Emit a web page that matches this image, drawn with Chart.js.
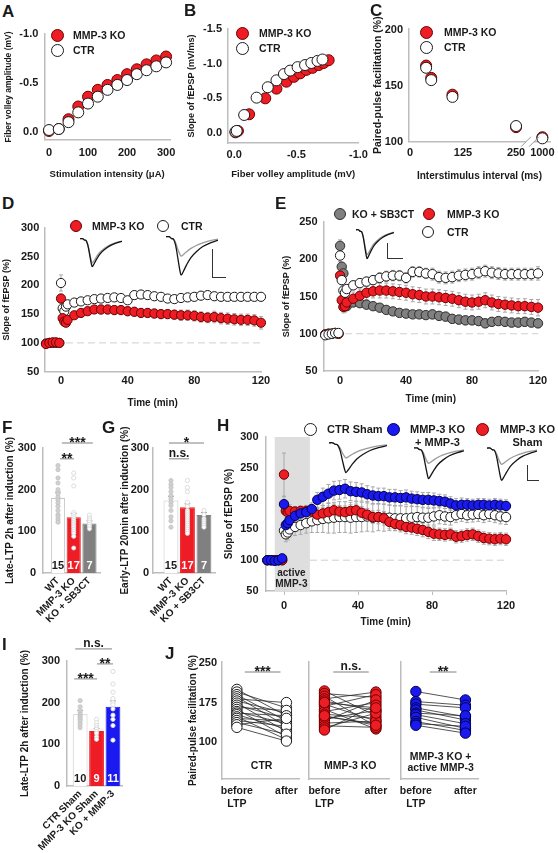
<!DOCTYPE html>
<html>
<head>
<meta charset="utf-8">
<script src="https://cdn.jsdelivr.net/npm/chart.js@4.4.0/dist/chart.umd.min.js"></script>
<style>
  body { margin: 0; background: #fff; }
  #fig { position: relative; width: 558px; height: 853px; overflow: hidden; background: #fff;
         font-family: "Liberation Sans", Arial, Helvetica, sans-serif; color: #1a1a1a; }
  #fig canvas { position: absolute; }
  .lbl { position: absolute; font-weight: bold; font-size: 17px; line-height: 1; }
  .leg { position: absolute; font-weight: bold; font-size: 10.5px; line-height: 13px; white-space: nowrap; }
  .dot { position: absolute; border-radius: 50%; box-sizing: border-box; }
  .sb { position: absolute; border-left: 1.3px solid #333; border-bottom: 1.3px solid #333; }
</style>
</head>
<body>
<div id="fig"></div>
<script>
// ---- data ----
// A: fiber volley vs stimulation
const aStim = [0, 25, 50, 75, 100, 125, 150, 175, 200, 225, 250, 275, 300];
const aKO  = [-0.01, -0.03, -0.13, -0.26, -0.36, -0.43, -0.48, -0.53, -0.59, -0.64, -0.69, -0.73, -0.77];
const aCTR = [-0.02, -0.03, -0.10, -0.20, -0.29, -0.36, -0.43, -0.48, -0.53, -0.59, -0.63, -0.67, -0.71];
const aTicksX = [0, 100, 200, 300];
const aTicksY = [-1.0, -0.5, 0.0];

// B: fEPSP slope vs fiber volley
const bKOfv   = [-0.01, -0.03, -0.12, -0.25, -0.34, -0.42, -0.48, -0.53, -0.58, -0.63, -0.68, -0.72, -0.76];
const bKOsl   = [-0.01, -0.03, -0.27, -0.50, -0.64, -0.74, -0.81, -0.86, -0.91, -0.94, -0.98, -1.01, -1.05];
const bCTRfv  = [-0.01, -0.02, -0.08, -0.18, -0.27, -0.34, -0.40, -0.45, -0.51, -0.57, -0.62, -0.67, -0.71];
const bCTRsl  = [-0.02, -0.03, -0.26, -0.51, -0.66, -0.76, -0.85, -0.90, -0.95, -0.98, -1.01, -1.04, -1.06];
const bTicksX = [0.0, -0.5, -1.0];
const bTicksY = [-1.5, -1.0, -0.5, 0.0];

// C: paired-pulse facilitation (broken axis: 1000 ms drawn at 312)
const cPos = [38, 50, 100, 250, 312];
const cKO  = [168, 157, 142, 113, 104];
const cCTR = [166, 155, 140, 114, 103];
const cTickPos = [0, 125, 250, 312];
const cTickLbl = ['0', '125', '250', '1000'];
const cTicksY = [100, 150, 200];

// D and E: LTP time courses
const timeDE = [-9, -7, -5, -3, -1, 0, 1, 2, 3, 4, 8, 12, 16, 20, 24, 28, 32, 36, 40, 44, 48, 52, 56, 60,
                64, 68, 72, 76, 80, 84, 88, 92, 96, 100, 104, 108, 112, 116, 120];
const dKO  = [98, 100, 101, 101, 100, 177, 143, 137, 135, 140, 148, 152, 155, 158, 158, 158, 157, 157, 155, 154,
              152, 152, 151, 150, 150, 149, 148, 148, 147, 145, 144, 145, 143, 142, 141, 140, 140, 139, 135];
const dCTR = [99, 100, 100, 100, 100, 204, 160, 155, 163, 167, 170, 172, 174, 176, 177, 178, 179, 178, 174, 183,
              184, 183, 181, 180, 177, 176, 178, 179, 180, 182, 183, 181, 180, 180, 180, 180, 180, 180, 180];
const dKOerr  = [2, 2, 2, 2, 2, 8, 6, 6, 6, 5, 6, 7, 7, 7, 8, 8, 8, 8, 8, 8, 8, 8, 8, 8, 8, 8, 9, 9, 9, 9, 9,
                 10, 10, 10, 10, 10, 10, 10, 11];
const dCTRerr = [2, 2, 2, 2, 2, 14, 6, 6, 6, 5, 6, 6, 6, 6, 6, 6, 6, 6, 6, 7, 7, 7, 7, 7, 7, 7, 7, 7, 7, 7, 7,
                 7, 7, 7, 7, 7, 7, 7, 7];
const eSB  = [99, 100, 100, 101, 100, 218, 190, 181, 140, 137, 142, 141, 139, 137, 135, 132, 130, 128, 127, 126,
              126, 125, 126, 124, 123, 120, 119, 118, 118, 117, 114, 116, 117, 116, 115, 115, 116, 115, 114];
const eKO  = [99, 100, 100, 101, 100, 178, 145, 136, 137, 142, 147, 151, 155, 157, 158, 158, 157, 156, 155, 153,
              152, 150, 150, 149, 148, 147, 145, 143, 142, 143, 145, 142, 140, 139, 138, 137, 137, 136, 135];
const eCTR = [98, 99, 100, 101, 101, 205, 172, 158, 155, 160, 165, 168, 170, 172, 175, 177, 178, 178, 175, 183,
              183, 181, 180, 176, 175, 176, 178, 179, 180, 182, 184, 182, 181, 180, 180, 180, 180, 180, 181];
const eSBerr  = [2, 2, 2, 2, 2, 8, 6, 5, 5, 5, 5, 5, 5, 5, 5, 5, 5, 5, 5, 5, 5, 5, 6, 6, 6, 6, 6, 6, 6, 6, 6,
                 6, 6, 6, 6, 6, 6, 6, 6];
const eKOerr  = [2, 2, 2, 2, 2, 10, 8, 8, 8, 8, 9, 9, 9, 9, 10, 10, 10, 10, 10, 10, 10, 10, 10, 10, 10, 10, 10,
                 10, 10, 10, 10, 10, 10, 10, 10, 10, 10, 10, 11];
const eCTRerr = [2, 2, 2, 2, 2, 8, 6, 6, 6, 6, 6, 6, 6, 6, 7, 7, 7, 7, 7, 7, 7, 7, 8, 8, 8, 8, 8, 8, 8, 8, 8,
                 8, 8, 8, 8, 8, 8, 8, 9];
const timeTicks = [0, 40, 80, 120];

// H: active MMP-3 rescue
const timeH = [-9, -7, -5, -3, -1, 0, 1, 2, 3, 6, 9, 12, 15, 18, 21, 24, 27, 30, 33, 36, 39, 42, 45, 48, 51,
               54, 57, 60, 63, 66, 69, 72, 75, 78, 81, 84, 87, 90, 93, 96, 99, 102, 105, 108, 111, 114, 117, 120];
const hBlue = [100, 100, 99, 100, 103, 191, 157, 160, 165, 172, 176, 178, 183, 198, 203, 208, 213, 214, 216, 212,
               211, 210, 207, 205, 204, 204, 202, 202, 201, 202, 200, 199, 198, 198, 197, 196, 195, 192, 189, 190,
               190, 189, 190, 190, 189, 190, 189, 188];
const hRed  = [100, 100, 100, 100, 100, 239, 180, 178, 180, 179, 180, 180, 179, 174, 176, 178, 181, 179, 178, 180,
               181, 177, 174, 170, 170, 168, 162, 159, 157, 154, 153, 151, 149, 146, 143, 142, 141, 142, 138, 139,
               141, 142, 139, 136, 135, 134, 135, 134];
const hCTR  = [100, 100, 100, 100, 100, 148, 142, 145, 150, 154, 157, 160, 163, 165, 167, 168, 169, 170, 170, 169,
               170, 170, 171, 169, 170, 169, 169, 168, 168, 168, 169, 170, 169, 169, 171, 173, 171, 170, 173, 175,
               173, 174, 175, 173, 175, 173, 171, 170];
const hBlueErr = [2, 2, 2, 2, 2, 12, 8, 8, 8, 9, 10, 10, 10, 12, 14, 15, 15, 15, 15, 15, 15, 14, 14, 14, 13, 13,
                  13, 13, 12, 12, 12, 12, 12, 12, 12, 11, 11, 11, 11, 11, 10, 10, 10, 10, 10, 10, 10, 10];
const hRedErr  = [2, 2, 2, 2, 2, 35, 10, 10, 10, 8, 8, 9, 9, 10, 10, 10, 10, 10, 10, 10, 10, 10, 10, 10, 11, 11,
                  11, 11, 11, 11, 11, 11, 11, 11, 11, 10, 10, 10, 10, 10, 10, 10, 10, 10, 10, 10, 10, 10];
const hCTRerr  = [2, 2, 2, 2, 2, 10, 12, 12, 12, 14, 15, 16, 18, 20, 22, 24, 25, 25, 25, 25, 25, 24, 24, 23, 22,
                  22, 21, 20, 20, 19, 18, 17, 16, 15, 14, 14, 13, 13, 12, 12, 12, 12, 12, 12, 12, 12, 12, 12];

// F, G, I: bar summaries
const barPos = [1, 2, 3];
const fgLabels = ['WT', 'MMP-3 KO', 'KO + SB3CT'];
const fMean = [180, 134, 119];
const fSem = [14, 9, 6];
const fN = ['15', '17', '7'];
const fDotsWT = [258, 248, 228, 216, 200, 190, 182, 175, 168, 160, 150, 140, 135, 128, 122];
const fDotsKO = [240, 228, 209, 145, 140, 135, 130, 126, 122, 118, 114, 110, 105, 100, 95, 88, 60];
const fDotsSB = [139, 132, 127, 122, 117, 112, 106];
const gMean = [174, 158, 139];
const gSem = [10, 8, 6];
const gN = ['15', '17', '7'];
const gDotsWT = [222, 213, 205, 195, 185, 178, 170, 162, 150, 135, 125, 110];
const gDotsKO = [222, 205, 195, 170, 160, 150, 145, 140, 135, 130, 125, 120, 115, 110, 105, 100, 95];
const gDotsSB = [150, 140, 130, 125, 120, 115, 110];
const iLabels = ['CTR Sham', 'MMP-3 KO Sham', 'KO + MMP-3'];
const iMean = [172, 132, 190];
const iSem = [10, 6, 14];
const iN = ['10', '9', '11'];
const iDotsCTR = [205, 190, 178, 172, 168, 164, 160, 155, 148, 140];
const iDotsKO = [160, 152, 145, 140, 136, 131, 126, 118, 112];
const iDotsMMP = [275, 245, 225, 210, 200, 195, 185, 170, 160, 145, 110];
const barTicksY = [0, 100, 200, 300];

// J: paired-pulse before / after LTP
const jCtrBefore = [200, 195, 190, 186, 182, 178, 174, 170, 166, 162, 158, 155, 152, 148, 145, 141, 137, 133, 128];
const jCtrAfter  = [150, 165, 140, 130, 175, 155, 120, 145, 160, 110, 135, 150, 125, 105, 140, 130, 115, 145, 102];
const jKoBefore  = [197, 192, 187, 182, 178, 172, 168, 162, 158, 153, 148, 144, 140, 136, 131, 127, 123, 175, 150];
const jKoAfter   = [150, 185, 130, 195, 160, 140, 190, 125, 175, 145, 135, 160, 180, 140, 128, 155, 170, 165, 132];
const jMmpBefore = [196, 177, 172, 165, 161, 155, 152, 147, 139, 135, 132];
const jMmpAfter  = [180, 170, 165, 148, 142, 150, 135, 126, 122, 130, 117];
const jTicksY = [100, 175, 250];

// example fEPSP traces for the insets
const traceT     = [0, 3, 5, 7, 9, 11, 13, 14, 16, 19, 23, 28, 34, 41, 48];
const traceLTP   = [0.05, 0.05, 0, -0.02, -0.2, -0.55, -0.9, -1.0, -0.9, -0.72, -0.52, -0.36, -0.22, -0.12, -0.05];
const traceBaseA = [0.05, 0.05, 0, -0.02, -0.18, -0.48, -0.78, -0.86, -0.78, -0.62, -0.45, -0.31, -0.19, -0.1, -0.04];
const traceBaseB = [0.05, 0.05, 0, -0.02, -0.12, -0.3, -0.44, -0.48, -0.44, -0.36, -0.27, -0.19, -0.12, -0.06, -0.02];

// ---- styling ----
const FAM = '"Liberation Sans", Arial, Helvetica, sans-serif';
const AXIS = '#bdbdbd';
const RED = '#ee1c24', RED_E = '#6e0000';
const WHITE = '#ffffff', WHITE_E = '#1a1a1a';
const GRAY = '#808080', GRAY_E = '#2e2e2e';
const BLUE = '#1a1af0', BLUE_E = '#00004d';

Chart.defaults.font.family = FAM;
Chart.defaults.font.weight = 'bold';
Chart.defaults.font.size = 11;
Chart.defaults.color = '#1a1a1a';
Chart.defaults.animation = false;
Chart.defaults.events = [];
Chart.defaults.plugins.legend.display = false;
Chart.defaults.plugins.tooltip.enabled = false;

const fig = document.getElementById('fig');

// canvas placed so that the chart area lands on the given plot box
function canvasFor(b) {
  const lh = 12;
  const L = Math.floor(b.tx - lh / 2);
  const T = Math.floor(b.y0 - (b.pt ?? 12));
  const R = Math.ceil(b.x1 + (b.pr ?? 14));
  const B = Math.ceil(b.ty + lh / 2);
  const c = document.createElement('canvas');
  c.width = R - L; c.height = B - T;
  c.style.left = L + 'px'; c.style.top = T + 'px';
  c.style.width = (R - L) + 'px'; c.style.height = (B - T) + 'px';
  fig.appendChild(c);
  return { c, yw: b.x0 - L, xh: B - b.y1, pad: { top: b.y0 - T, right: R - b.x1, left: 0, bottom: 0 } };
}

function lin(o, size) {
  return {
    type: 'linear', min: o.min, max: o.max, reverse: !!o.reverse, offset: false,
    border: { display: o.border !== false, color: AXIS, width: 1.5 },
    grid: { display: !!o.tickMarks, drawOnChartArea: false, drawTicks: !!o.tickMarks, tickLength: 4, color: AXIS, offset: false },
    ticks: { display: o.ticks !== false, padding: o.pad ?? 5, autoSkip: false,
             maxRotation: o.rot ?? 0, minRotation: o.rot ?? 0,
             callback: o.fmt || (v => String(v)), font: { size: o.tickSize ?? 11, weight: 'bold' } },
    title: { display: !!o.title, text: o.title, padding: 0, font: { size: o.titleSize ?? 10, weight: 'bold', lineHeight: 1.2 } },
    afterBuildTicks: s => { s.ticks = (o.vals || []).map(v => ({ value: v })); },
    afterFit: s => {
      if (s.isHorizontal()) s.height = size; else s.width = size;
      s.paddingLeft = s.paddingRight = s.paddingTop = s.paddingBottom = 0;
    }
  };
}

function pts(xs, ys, fill, edge, r, errs) {
  return { data: xs.map((x, i) => ({ x, y: ys[i] })), showLine: false, clip: false,
           pointRadius: r, pointBackgroundColor: fill, pointBorderColor: edge, pointBorderWidth: 1,
           errors: errs };
}

// error bars, shading, baselines, brackets, counts
const deco = {
  id: 'deco',
  beforeDatasetsDraw(chart, args, o) {
    const { ctx } = chart, x = chart.scales.x, y = chart.scales.y;
    ctx.save();
    if (o.shade) {
      const s = o.shade;
      const l = x.getPixelForValue(s.x1), r = x.getPixelForValue(s.x2);
      const t = y.getPixelForValue(s.y2), b = y.getPixelForValue(s.y1);
      ctx.fillStyle = '#dedede';
      ctx.fillRect(l, t, r - l, b - t);
      ctx.fillStyle = '#222'; ctx.font = 'bold 10px ' + FAM;
      ctx.textAlign = 'center'; ctx.textBaseline = 'middle';
      s.text.forEach((tx, k) => ctx.fillText(tx, x.getPixelForValue(s.tx), y.getPixelForValue(s.ty[k])));
    }
    if (o.baseline) {
      const bl = o.baseline;
      ctx.strokeStyle = '#cfcfcf'; ctx.lineWidth = 1; ctx.setLineDash([7, 4]);
      ctx.beginPath();
      ctx.moveTo(x.getPixelForValue(bl.x1), y.getPixelForValue(bl.y));
      ctx.lineTo(x.getPixelForValue(bl.x2), y.getPixelForValue(bl.y));
      ctx.stroke(); ctx.setLineDash([]);
    }
    chart.data.datasets.forEach((ds, i) => {
      if (!ds.errors) return;
      const meta = chart.getDatasetMeta(i);
      ctx.strokeStyle = ds.errColor || '#a8a8a8'; ctx.lineWidth = 1;
      meta.data.forEach((el, j) => {
        const d = ds.data[j], v = typeof d === 'object' ? d.y : d, e = ds.errors[j];
        if (v == null || !e) return;
        const top = y.getPixelForValue(v + e);
        const bot = ds.errUp ? y.getPixelForValue(v) : y.getPixelForValue(v - e);
        const w = ds.errCap ?? 2;
        ctx.beginPath();
        ctx.moveTo(el.x, top); ctx.lineTo(el.x, bot);
        ctx.moveTo(el.x - w, top); ctx.lineTo(el.x + w, top);
        if (!ds.errUp) { ctx.moveTo(el.x - w, bot); ctx.lineTo(el.x + w, bot); }
        ctx.stroke();
      });
    });
    ctx.restore();
  },
  afterDatasetsDraw(chart, args, o) {
    const { ctx } = chart, x = chart.scales.x, y = chart.scales.y;
    ctx.save();
    if (o.counts) {
      const meta = chart.getDatasetMeta(o.counts.ds);
      ctx.font = 'bold 11px ' + FAM; ctx.textAlign = 'center'; ctx.textBaseline = 'middle';
      meta.data.forEach((el, j) => {
        ctx.fillStyle = o.counts.color[j];
        ctx.fillText(o.counts.text[j], el.x, y.getPixelForValue(0) - 7);
      });
    }
    (o.sig || []).forEach(s => {
      const py = y.getPixelForValue(s.y);
      const l = x.getPixelForValue(s.x1), r = x.getPixelForValue(s.x2);
      ctx.strokeStyle = '#808080'; ctx.lineWidth = 1;
      ctx.beginPath(); ctx.moveTo(l, py); ctx.lineTo(r, py); ctx.stroke();
      ctx.fillStyle = '#1a1a1a'; ctx.textAlign = 'center'; ctx.textBaseline = 'alphabetic';
      const star = s.text.includes('*');
      ctx.font = 'bold ' + (star ? 14 : 12) + 'px ' + FAM;
      ctx.fillText(s.text, (l + r) / 2, star ? py + 4 : py - 2);
    });
    if (o.caption) {
      ctx.fillStyle = '#1a1a1a'; ctx.font = 'bold 10.5px ' + FAM;
      ctx.textAlign = 'center'; ctx.textBaseline = 'middle';
      o.caption.text.forEach((t, k) => ctx.fillText(t, x.getPixelForValue(o.caption.x), y.getPixelForValue(o.caption.y[k])));
    }
    if (o.breakAt != null) {
      const px = x.getPixelForValue(o.breakAt), py = chart.chartArea.bottom;
      ctx.fillStyle = '#fff'; ctx.fillRect(px - 4, py - 3, 8, 6);
      ctx.strokeStyle = '#9a9a9a'; ctx.lineWidth = 1;
      [-4, 4].forEach(dx => {
        ctx.beginPath(); ctx.moveTo(px + dx - 5, py + 5); ctx.lineTo(px + dx + 5, py - 5); ctx.stroke();
      });
    }
    ctx.restore();
  }
};

function base(k, scales, decoOpts) {
  return { responsive: false, layout: { padding: k.pad }, scales, plugins: { deco: decoOpts || {} } };
}

// ---------- A ----------
{
  const k = canvasFor({ x0: 44.3, x1: 170, y0: 34, y1: 139.8, tx: 10, ty: 174 });
  new Chart(k.c, {
    type: 'scatter',
    data: { datasets: [pts(aStim, aCTR, WHITE, WHITE_E, 5.5), pts(aStim, aKO, RED, RED_E, 5.5)] },
    options: base(k, {
      x: lin({ min: -12, max: 310, vals: aTicksX, pad: 7, title: 'Stimulation intensity (\u03bcA)', titleSize: 9.5 }, k.xh),
      y: lin({ min: -1, max: 0.08, reverse: true, vals: aTicksY, fmt: v => v.toFixed(1), pad: 6,
               title: 'Fiber volley amplitude (mV)', titleSize: 8.5 }, k.yw)
    }),
    plugins: [deco]
  });
}

// ---------- B ----------
{
  const k = canvasFor({ x0: 228, x1: 358.5, y0: 29, y1: 143, tx: 192, ty: 174 });
  new Chart(k.c, {
    type: 'scatter',
    data: { datasets: [pts(bCTRfv, bCTRsl, WHITE, WHITE_E, 5.5), pts(bKOfv, bKOsl, RED, RED_E, 5.5)] },
    options: base(k, {
      x: lin({ min: -1, max: 0.05, reverse: true, vals: bTicksX, fmt: v => v.toFixed(1), pad: 5,
               title: 'Fiber volley amplitude (mV)', titleSize: 9.5 }, k.xh),
      y: lin({ min: -1.5, max: 0.144, reverse: true, vals: bTicksY, fmt: v => v.toFixed(1), pad: 6,
               title: 'Slope of fEPSP (mV/ms)', titleSize: 9 }, k.yw)
    }),
    plugins: [deco]
  });
}

// ---------- C ----------
{
  const k = canvasFor({ x0: 409, x1: 550, y0: 28.6, y1: 141.7, tx: 378, ty: 176, pr: 8 });
  new Chart(k.c, {
    type: 'scatter',
    data: { datasets: [pts(cPos, cCTR, WHITE, WHITE_E, 5.5), pts(cPos, cKO, RED, RED_E, 5.5)] },
    options: base(k, {
      x: lin({ min: -2.4, max: 330, vals: cTickPos, fmt: v => cTickLbl[cTickPos.indexOf(v)], pad: 5,
               title: 'Interstimulus interval (ms)' }, k.xh),
      y: lin({ min: 100, max: 201, vals: cTicksY, pad: 6, title: 'Paired-pulse facilitation (%)', titleSize: 10.5 }, k.yw)
    }, { breakAt: 283 }),
    plugins: [deco]
  });
}

// ---------- D ----------
{
  const k = canvasFor({ x0: 44.3, x1: 261, y0: 227.7, y1: 371.7, tx: 7, ty: 403 });
  new Chart(k.c, {
    type: 'scatter',
    data: { datasets: [pts(timeDE, dKO, RED, RED_E, 4.6, dKOerr), pts(timeDE, dCTR, WHITE, WHITE_E, 4.6, dCTRerr)] },
    options: base(k, {
      x: lin({ min: -10, max: 120, vals: timeTicks, pad: 3, title: 'Time (min)' }, k.xh),
      y: lin({ min: 50, max: 300, vals: [50, 100, 150, 200, 250, 300], pad: 5, title: 'Slope of fEPSP (%)', titleSize: 9 }, k.yw)
    }, { baseline: { y: 100, x1: 3, x2: 120 } }),
    plugins: [deco]
  });
}

// ---------- E ----------
{
  const k = canvasFor({ x0: 323.6, x1: 538, y0: 222, y1: 371, tx: 287, ty: 399 });
  new Chart(k.c, {
    type: 'scatter',
    data: { datasets: [
      pts(timeDE, eCTR, WHITE, WHITE_E, 4.7, eCTRerr),
      pts(timeDE, eKO, RED, RED_E, 4.7, eKOerr),
      pts(timeDE, eSB, GRAY, GRAY_E, 4.7, eSBerr)
    ] },
    options: base(k, {
      x: lin({ min: -10, max: 120, vals: timeTicks, pad: 3, title: 'Time (min)' }, k.xh),
      y: lin({ min: 50, max: 250, vals: [50, 100, 150, 200, 250], pad: 6, title: 'Slope of fEPSP (%)', titleSize: 9 }, k.yw)
    }, { baseline: { y: 100, x1: 3, x2: 120 } }),
    plugins: [deco]
  });
}

// ---------- H ----------
{
  const k = canvasFor({ x0: 265.5, x1: 506, y0: 437, y1: 591, tx: 229, ty: 622 });
  new Chart(k.c, {
    type: 'scatter',
    data: { datasets: [
      pts(timeH, hBlue, BLUE, BLUE_E, 4.7, hBlueErr),
      pts(timeH, hRed, RED, RED_E, 4.7, hRedErr),
      pts(timeH, hCTR, WHITE, WHITE_E, 4.7, hCTRerr)
    ] },
    options: base(k, {
      x: lin({ min: -10, max: 120, vals: timeTicks, pad: 4, tickMarks: true, title: 'Time (min)' }, k.xh),
      y: lin({ min: 50, max: 300, vals: [50, 100, 150, 200, 250, 300], pad: 7, title: 'Slope of fEPSP (%)' }, k.yw)
    }, {
      shade: { x1: -5, x2: 14, y1: 50, y2: 300, text: ['active', 'MMP-3'], tx: 4, ty: [79, 61] },
      baseline: { y: 100, x1: 14, x2: 120 }
    }),
    plugins: [deco]
  });
}

// ---------- bar panels F, G, I ----------
function barPanel(box, o) {
  const k = canvasFor(box);
  const dotSet = (vals, p, fill, edge) => ({
    type: 'scatter', data: vals.map(v => ({ x: p, y: v })), clip: false,
    pointRadius: 2.1, pointBackgroundColor: fill, pointBorderColor: edge, pointBorderWidth: 0.8
  });
  new Chart(k.c, {
    type: 'bar',
    data: { datasets: [
      dotSet(o.dots[0], barPos[0], '#d0d0d0', '#c2c2c2'),
      dotSet(o.dots[1], barPos[1], '#ffffff', '#d4d4d4'),
      dotSet(o.dots[2], barPos[2], '#ffffff', '#d4d4d4'),
      { type: 'bar', data: barPos.map((p, i) => ({ x: p, y: o.mean[i] })),
        backgroundColor: o.colors, borderColor: o.edges, borderWidth: 1,
        barPercentage: 0.9, categoryPercentage: 1, errors: o.sem, errUp: true, errColor: '#9a9a9a', errCap: 3 }
    ] },
    options: base(k, {
      x: lin({ min: o.xmin, max: o.xmax, vals: barPos, rot: 45, pad: 2, tickSize: 10,
               fmt: v => o.labels[barPos.indexOf(v)] }, k.xh),
      y: lin({ min: 0, max: 300, vals: barTicksY, pad: o.ypad ?? 7, title: o.title }, k.yw)
    }, { counts: { ds: 3, text: o.n, color: o.nColor }, sig: o.sig }),
    plugins: [deco]
  });
}

barPanel({ x0: 43, x1: 100, y0: 448, y1: 573, tx: 10, ty: 625, pt: 40, pr: 10 }, {
  xmin: 0.048, xmax: 3.67, labels: fgLabels, mean: fMean, sem: fSem, n: fN,
  dots: [fDotsWT, fDotsKO, fDotsSB],
  colors: [WHITE, RED, GRAY], edges: ['#c8c8c8', RED, GRAY], nColor: ['#1a1a1a', '#fff', '#fff'],
  title: 'Late-LTP 2h after induction (%)',
  sig: [{ x1: 1.25, x2: 3.22, y: 312, text: '***' }, { x1: 1.13, x2: 2.02, y: 274, text: '**' }]
});

barPanel({ x0: 153, x1: 215, y0: 448, y1: 573, tx: 125, ty: 625, pt: 40, pr: 10 }, {
  xmin: -0.09, xmax: 3.67, labels: fgLabels, mean: gMean, sem: gSem, n: gN, ypad: 4,
  dots: [gDotsWT, gDotsKO, gDotsSB],
  colors: [WHITE, RED, GRAY], edges: ['#c8c8c8', RED, GRAY], nColor: ['#1a1a1a', '#fff', '#fff'],
  title: 'Early-LTP 20min after induction (%)',
  sig: [{ x1: 0.88, x2: 3.0, y: 312, text: '*' }, { x1: 0.88, x2: 2.1, y: 274, text: 'n.s.' }]
});

barPanel({ x0: 67, x1: 122, y0: 661, y1: 786, tx: 25, ty: 845, pt: 40, pr: 10 }, {
  xmin: 0.2, xmax: 3.55, labels: iLabels, mean: iMean, sem: iSem, n: iN,
  dots: [iDotsCTR, iDotsKO, iDotsMMP],
  colors: [WHITE, RED, BLUE], edges: ['#c8c8c8', RED, BLUE], nColor: ['#1a1a1a', '#fff', '#fff'],
  title: 'Late-LTP 2h after induction (%)',
  sig: [{ x1: 0.7, x2: 2.94, y: 329, text: 'n.s.' }, { x1: 2.03, x2: 3.0, y: 293, text: '**' },
        { x1: 0.64, x2: 2.03, y: 257, text: '***' }]
});

// ---------- J ----------
function jPanel(box, before, after, fill, edge, first, caption, sig) {
  const k = canvasFor(box);
  const dots = [], segs = [];
  before.forEach((b, i) => {
    dots.push({ x: 0, y: b }, { x: 1, y: after[i] });
    segs.push({ x: 0, y: b }, { x: 1, y: after[i] }, { x: 0.5, y: null });
  });
  new Chart(k.c, {
    type: 'scatter',
    data: { datasets: [
      { data: dots, showLine: false, clip: false, pointRadius: 5.2, pointBackgroundColor: fill,
        pointBorderColor: edge, pointBorderWidth: 1 },
      { data: segs, showLine: true, spanGaps: false, clip: false, borderColor: '#2a2a2a', borderWidth: 0.8, pointRadius: 0 }
    ] },
    options: base(k, {
      x: lin({ min: -0.3, max: 1.27, vals: [0, 1], pad: 6, tickSize: 10.5,
               fmt: v => v === 0 ? ['before', 'LTP'] : 'after' }, k.xh),
      y: lin({ min: 30, max: 252, vals: jTicksY, ticks: first, pad: 5,
               title: first ? 'Paired-pulse facilitation (%)' : '', titleSize: 10 }, k.yw)
    }, { caption, sig: [sig] }),
    plugins: [deco]
  });
}

jPanel({ x0: 222, x1: 300, y0: 662, y1: 779, tx: 193, ty: 815, pt: 20, pr: 6 }, jCtrBefore, jCtrAfter, WHITE, WHITE_E, true,
       { text: ['CTR'], x: 0.5, y: [54] }, { x1: 0.16, x2: 0.88, y: 233, text: '***' });
jPanel({ x0: 309, x1: 390, y0: 662, y1: 779, tx: 300, ty: 815, pt: 20, pr: 6 }, jKoBefore, jKoAfter, RED, RED_E, false,
       { text: ['MMP-3 KO'], x: 0.5, y: [54] }, { x1: 0.17, x2: 0.86, y: 233, text: 'n.s.' });
jPanel({ x0: 401, x1: 479, y0: 662, y1: 779, tx: 392, ty: 815, pt: 20, pr: 6 }, jMmpBefore, jMmpAfter, BLUE, BLUE_E, false,
       { text: ['MMP-3 KO +', 'active MMP-3'], x: 0.5, y: [72, 51] }, { x1: 0.28, x2: 0.82, y: 233, text: '**' });

// ---------- inset traces ----------
function trace(left, top, w, h, gray) {
  const c = document.createElement('canvas');
  c.width = w; c.height = h;
  c.style.left = left + 'px'; c.style.top = top + 'px';
  c.style.width = w + 'px'; c.style.height = h + 'px';
  fig.appendChild(c);
  const line = (ys, col) => ({ data: traceT.map((t, i) => ({ x: t, y: ys[i] })), showLine: true,
                               borderColor: col, borderWidth: 1.3, pointRadius: 0, tension: 0.35, clip: false });
  new Chart(c, {
    type: 'scatter',
    data: { datasets: [line(traceLTP, '#151515'), line(gray, '#9a9a9a')] },
    options: { responsive: false, layout: { padding: 0 },
      scales: { x: { display: false, min: 0, max: 48 }, y: { display: false, min: -1.05, max: 0.15 } } }
  });
}
trace(80, 236, 42, 32, traceBaseA);
trace(166, 233, 52, 44, traceBaseB);
trace(356, 227, 38, 33, traceBaseA);
trace(329, 440, 58, 34, traceBaseB);
trace(414, 445, 50, 35, traceBaseB);
trace(487, 445, 50, 37, traceBaseB);

// scale bars and legends
function el(cls, css, html) {
  const d = document.createElement('div');
  d.className = cls; d.style.cssText = css;
  if (html) d.innerHTML = html;
  fig.appendChild(d);
}
el('sb', 'left:212px;top:249px;width:13px;height:28px');
el('sb', 'left:387px;top:243px;width:15px;height:15px');
el('sb', 'left:527px;top:465px;width:11px;height:15px');

function leg(cx, cy, r, fill, edge, text, tx, extra) {
  el('dot', `left:${cx - r}px;top:${cy - r}px;width:${2 * r}px;height:${2 * r}px;background:${fill};border:1.2px solid ${edge}`);
  el('leg', `left:${tx}px;top:${cy - 6.5}px;${extra || ''}`, text);
}
leg(57, 35, 6.5, RED, RED_E, 'MMP-3 KO', 73);
leg(57, 50, 6.5, WHITE, WHITE_E, 'CTR', 73);
leg(242, 33, 6.5, RED, RED_E, 'MMP-3 KO', 259);
leg(242, 48, 6.5, WHITE, WHITE_E, 'CTR', 259);
leg(426, 32, 6.5, RED, RED_E, 'MMP-3 KO', 444);
leg(426, 47, 6.5, WHITE, WHITE_E, 'CTR', 444);
leg(76, 226, 6, RED, RED_E, 'MMP-3 KO', 92);
leg(163, 226, 6, WHITE, WHITE_E, 'CTR', 181);
leg(340, 214, 6, GRAY, GRAY_E, 'KO + SB3CT', 352);
leg(429, 214, 6, RED, RED_E, 'MMP-3 KO', 447);
leg(428, 232, 6, WHITE, WHITE_E, 'CTR', 447);
leg(310, 429, 6.5, WHITE, WHITE_E, 'CTR Sham', 327, 'font-size:11px');
leg(393, 429, 6.5, BLUE, BLUE_E, 'MMP-3 KO<br>+ MMP-3', 410, 'font-size:11px;text-align:center');
leg(482, 429, 6.5, RED, RED_E, 'MMP-3 KO<br>Sham', 500, 'font-size:11px;text-align:center');

// panel letters
[['A', 2, 3], ['B', 184, 2], ['C', 370, 2], ['D', 2, 195], ['E', 275, 195], ['F', 2, 419],
 ['G', 102, 419], ['H', 217, 417], ['I', 2, 636], ['J', 165, 645]]
  .forEach(([t, x, y]) => el('lbl', `left:${x}px;top:${y}px`, t));
</script>
</body>
</html>
